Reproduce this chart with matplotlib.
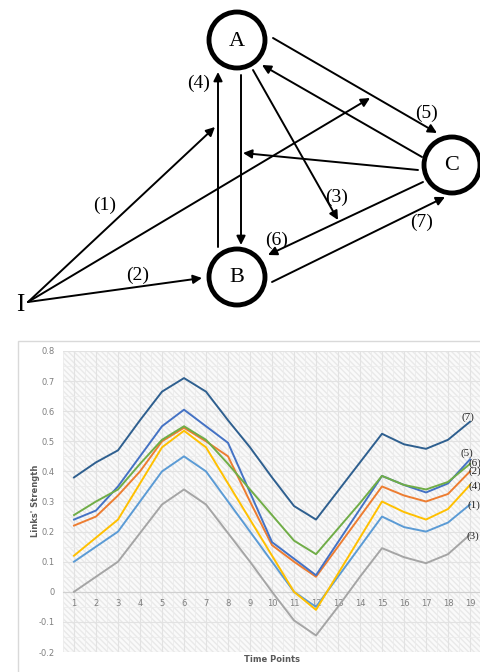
import numpy as np
import matplotlib
matplotlib.use('Agg')
import matplotlib.pyplot as plt
from matplotlib.patches import Circle, Rectangle

# ---- link strength series, one value per time point ----
time_points = list(range(1, 20))
link1 = [0.10, 0.15, 0.20, 0.30, 0.40, 0.45, 0.40, 0.30, 0.20, 0.10, 0.0, -0.05, 0.05, 0.15, 0.25, 0.215, 0.20, 0.23, 0.29]
link2 = [0.22, 0.25, 0.32, 0.40, 0.50, 0.545, 0.50, 0.45, 0.30, 0.155, 0.10, 0.05, 0.15, 0.25, 0.35, 0.32, 0.30, 0.325, 0.40]
link3 = [0.0, 0.05, 0.10, 0.195, 0.29, 0.34, 0.29, 0.195, 0.10, 0.0, -0.095, -0.145, -0.05, 0.05, 0.145, 0.115, 0.095, 0.125, 0.19]
link4 = [0.12, 0.18, 0.24, 0.36, 0.48, 0.535, 0.48, 0.36, 0.24, 0.12, 0.0, -0.06, 0.06, 0.18, 0.30, 0.265, 0.24, 0.275, 0.355]
link5 = [0.24, 0.27, 0.35, 0.45, 0.55, 0.605, 0.55, 0.495, 0.33, 0.165, 0.11, 0.055, 0.165, 0.275, 0.385, 0.355, 0.33, 0.36, 0.44]
link6 = [0.255, 0.30, 0.34, 0.425, 0.505, 0.55, 0.505, 0.425, 0.34, 0.255, 0.17, 0.125, 0.21, 0.295, 0.385, 0.355, 0.34, 0.365, 0.425]
link7 = [0.38, 0.43, 0.47, 0.57, 0.665, 0.71, 0.665, 0.57, 0.48, 0.38, 0.285, 0.24, 0.335, 0.43, 0.525, 0.49, 0.475, 0.505, 0.565]

series_names = ['(1)', '(2)', '(3)', '(4)', '(5)', '(6)', '(7)']
series_colors = ['#5B9BD5', '#ED7D31', '#A5A5A5', '#FFC000', '#4472C4', '#70AD47', '#2E5F8F']
# end-label offsets in pixels (dx, dy)
label_offsets = [(4, -1), (5, 0), (3, -2), (5, -1), (-3, 6), (5, 1), (-2, 5)]

y_ticks = [0.8, 0.7, 0.6, 0.5, 0.4, 0.3, 0.2, 0.1, 0.0, -0.1, -0.2]
y_tick_labels = ['0.8', '0.7', '0.6', '0.5', '0.4', '0.3', '0.2', '0.1', '0', '-0.1', '-0.2']

# ---- network diagram (pixel coordinates, y down) ----
nodes = {'A': (237, 40), 'B': (237, 277), 'C': (452, 165)}
edges = [
    ((28, 302), (215, 127)),   # (1)
    ((28, 302), (370, 98)),
    ((28, 302), (202, 278)),   # (2)
    ((218, 247), (218, 72)),   # (4)
    ((241, 75), (241, 245)),
    ((253, 70), (338, 220)),   # (3)
    ((273, 38), (437, 133)),   # (5)
    ((422, 157), (262, 65)),
    ((418, 170), (243, 153)),
    ((423, 182), (268, 255)),  # (6)
    ((272, 282), (445, 197)),  # (7)
]
edge_labels = {'(1)': (105, 205), '(2)': (138, 275), '(3)': (337, 197), '(4)': (199, 83),
               '(5)': (427, 113), '(6)': (277, 240), '(7)': (422, 222)}

W, H = 481, 672
fig = plt.figure(figsize=(W / 100, H / 100), dpi=100)

# top: graph
axg = fig.add_axes([0, (H - 330) / H, 1, 330 / H])
axg.set_xlim(0, W)
axg.set_ylim(330, 0)
axg.axis('off')

for start, end in edges:
    axg.annotate('', xy=end, xytext=start,
                 arrowprops=dict(arrowstyle='-|>', lw=1.4, color='black',
                                 mutation_scale=13, shrinkA=0, shrinkB=0))

for name, (cx, cy) in nodes.items():
    axg.add_patch(Circle((cx, cy), 28, facecolor='white', edgecolor='black', lw=3.5, zorder=3))
    axg.text(cx, cy + 1, name, ha='center', va='center', fontsize=16,
             family='Liberation Serif', zorder=4)

axg.text(20, 305, 'I', ha='center', va='center', fontsize=18, family='Liberation Serif')
for lab, (lx, ly) in edge_labels.items():
    axg.text(lx, ly, lab, ha='center', va='center', fontsize=14, family='Liberation Serif')

# bottom: chart frame
fig.patches.append(Rectangle((18 / W, -0.1), 1, (H - 341) / H + 0.1, transform=fig.transFigure,
                             fill=False, edgecolor='#d9d9d9', lw=1))

ax = fig.add_axes([63 / W, 20 / H, 418 / W, 301 / H])
ax.set_xlim(0.5, 19.5)
ax.set_ylim(-0.2, 0.8)
ax.patch.set_facecolor('#fafafa')
ax.add_patch(Rectangle((0, 0), 1, 1, transform=ax.transAxes, facecolor='none',
                       edgecolor='#e9e9e9', hatch='\\\\\\\\\\\\', lw=0, zorder=0))

ax.set_xticks(time_points)
ax.set_xticks(np.arange(0.5, 20, 1), minor=True)
ax.set_yticks(y_ticks)
ax.set_yticklabels(y_tick_labels)
ax.set_yticks(np.arange(-0.15, 0.8, 0.1), minor=True)
ax.grid(which='major', color='#e2e2e2', lw=0.8)
ax.grid(which='minor', color='#ececec', lw=0.6)
ax.set_axisbelow(True)

for s in ['top', 'right', 'left']:
    ax.spines[s].set_visible(False)
ax.spines['bottom'].set_position(('data', 0))
ax.spines['bottom'].set_color('#d0d0d0')
ax.tick_params(which='both', length=0)
ax.tick_params(axis='x', pad=5, labelsize=6, labelcolor='#7f7f7f')
ax.tick_params(axis='y', pad=6, labelsize=6, labelcolor='#7f7f7f')

all_links = [link1, link2, link3, link4, link5, link6, link7]
for vals, name, col, (dx, dy) in zip(all_links, series_names, series_colors, label_offsets):
    ax.plot(time_points, vals, color=col, lw=1.4, zorder=3)
    ax.annotate(name, xy=(time_points[-1], vals[-1]), xytext=(dx, dy),
                textcoords='offset pixels', ha='center', va='center',
                fontsize=8, family='Liberation Serif', color='#222222',
                annotation_clip=False, zorder=4)

fig.text(36 / W, 1 - 501 / H, "Links' Strength", rotation=90, ha='center', va='center',
         fontsize=6, fontweight='bold', color='#595959')
fig.text(272 / W, 1 - 659 / H, 'Time Points', ha='center', va='center',
         fontsize=6, fontweight='bold', color='#595959')

fig.savefig('out.png', dpi=100)
